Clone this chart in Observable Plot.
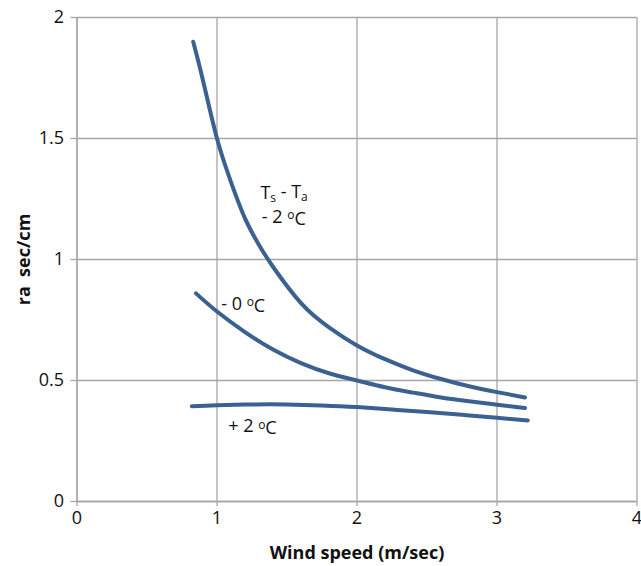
<!DOCTYPE html>
<html>
<head>
<meta charset="utf-8">
<script src="https://cdn.jsdelivr.net/npm/d3@7"></script>
<script src="https://cdn.jsdelivr.net/npm/@observablehq/plot@0.6"></script>
<style>
  html, body { margin: 0; padding: 0; background: #fff; }
  #chart svg { display: block; font-family: "Open Sans", sans-serif; }
</style>
</head>
<body>
<div id="chart"></div>
<script>
// Series: wind speed (m/sec) vs ra (sec/cm)
const windMinus2 = [0.83, 0.9, 1.0, 1.1, 1.2, 1.3, 1.4, 1.6, 1.8, 2.0, 2.2, 2.4, 2.6, 2.8, 3.0, 3.2];
const raMinus2   = [1.90, 1.74, 1.50, 1.32, 1.17, 1.06, 0.97, 0.82, 0.72, 0.645, 0.588, 0.542, 0.506, 0.476, 0.452, 0.43];

const windZero = [0.85, 1.0, 1.2, 1.4, 1.6, 1.8, 2.0, 2.2, 2.4, 2.6, 2.8, 3.0, 3.2];
const raZero   = [0.86, 0.785, 0.70, 0.628, 0.572, 0.53, 0.50, 0.472, 0.45, 0.43, 0.414, 0.40, 0.386];

const windPlus2 = [0.82, 1.0, 1.25, 1.5, 1.75, 2.0, 2.25, 2.5, 2.75, 3.0, 3.22];
const raPlus2   = [0.394, 0.398, 0.401, 0.401, 0.397, 0.39, 0.38, 0.37, 0.358, 0.346, 0.335];

const xTicks = [0, 1, 2, 3, 4];
const yTicks = [0, 0.5, 1, 1.5, 2];
const xTickLabels = ["0", "1", "2", "3", "4"];
const yTickLabels = ["0", "0.5", "1", "1.5", "2"];

// Curve annotations (anchored in data units)
const labelText = ["Ts - Ta", "- 2 oC", "- 0 oC", "+ 2 oC"];
const labelX    = [1.31, 1.32, 1.03, 1.08];
const labelY    = [1.272, 1.175, 0.815, 0.31];

const xTitle = "Wind speed (m/sec)";
const yTitle = "ra  sec/cm";

const series = [
  ...windMinus2.map((x, i) => ({x, y: raMinus2[i], s: "-2"})),
  ...windZero.map((x, i) => ({x, y: raZero[i], s: "0"})),
  ...windPlus2.map((x, i) => ({x, y: raPlus2[i], s: "+2"}))
];
const labels = labelText.map((t, i) => ({t, x: labelX[i], y: labelY[i]}));

const grid = "#a6a6a6";
const plot = Plot.plot({
  width: 641,
  height: 566,
  marginLeft: 76.5,
  marginRight: 4.5,
  marginTop: 17,
  marginBottom: 65,
  style: {fontFamily: "Open Sans, sans-serif", fontSize: "18px", color: "#111", background: "#fff"},
  x: {domain: [0, 4]},
  y: {domain: [0, 2]},
  marks: [
    Plot.gridX(xTicks, {stroke: grid, strokeOpacity: 1, strokeWidth: 1.3}),
    Plot.gridY(yTicks, {stroke: grid, strokeOpacity: 1, strokeWidth: 1.3}),
    Plot.axisX(xTicks, {
      tickSize: 5, tickPadding: 5, stroke: grid, strokeWidth: 1.3,
      tickFormat: (d, i) => xTickLabels[i],
      label: xTitle, labelAnchor: "center", labelArrow: "none", labelOffset: 57
    }),
    Plot.axisY(yTicks, {
      tickSize: 6, tickPadding: 7, stroke: grid, strokeWidth: 1.3,
      tickFormat: (d, i) => yTickLabels[i],
      label: yTitle, labelAnchor: "center", labelArrow: "none", labelOffset: 60
    }),
    Plot.ruleY([0], {stroke: grid, strokeWidth: 1.3}),
    Plot.ruleX([0], {stroke: grid, strokeWidth: 1.3}),
    Plot.line(series, {x: "x", y: "y", z: "s", stroke: "#3b6190", strokeWidth: 4, curve: "natural"}),
    Plot.text(labels, {x: "x", y: "y", text: "t", textAnchor: "start", fill: "#111", className: "curvelabel"})
  ]
});

// Typography: font sizes, subscripts and superscripts
const svg = d3.select(plot);
svg.selectAll("text").attr("font-size", "18px").style("font-size", "18px");
svg.selectAll("g[aria-label='x-axis label'] text, g[aria-label='y-axis label'] text")
  .style("font-weight", "bold").style("font-size", "18px").style("white-space", "pre")
  .attr("xml:space", "preserve");
svg.selectAll(".curvelabel text").each(function() {
  const el = d3.select(this);
  const t = el.text();
  el.text("");
  if (t === "Ts - Ta") {
    el.append("tspan").text("T");
    el.append("tspan").attr("dy", "0.2em").style("font-size", "12px").text("s");
    el.append("tspan").attr("dy", "-0.2em").text(" - T");
    el.append("tspan").attr("dy", "0.2em").style("font-size", "12px").text("a");
  } else {
    const m = t.match(/^(.*)o(C)$/);
    el.append("tspan").text(m[1]);
    el.append("tspan").attr("dy", "-0.3em").style("font-size", "12px").text("o");
    el.append("tspan").attr("dy", "0.3em").text(m[2]);
  }
});
document.getElementById("chart").appendChild(plot);
</script>
</body>
</html>
